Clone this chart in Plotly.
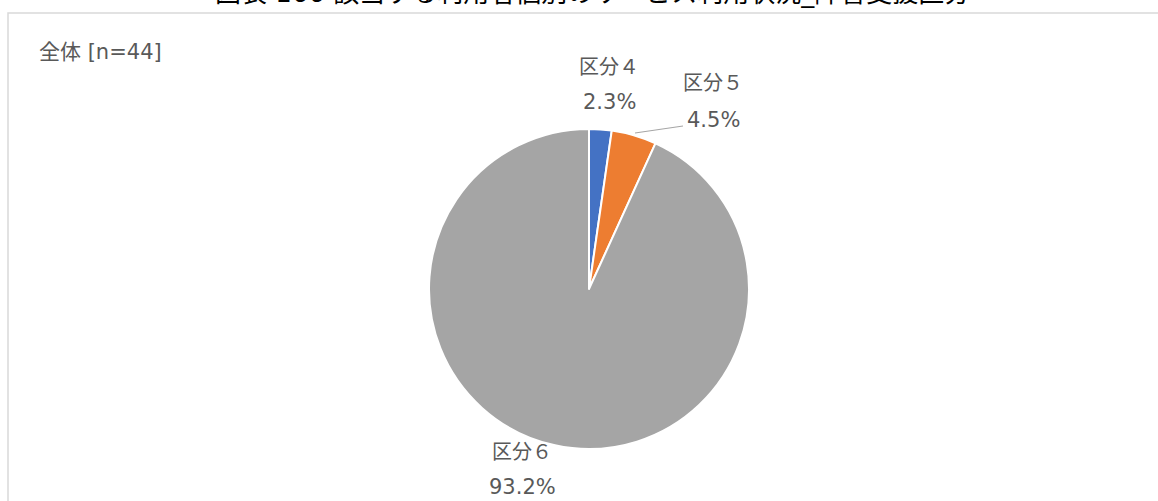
import plotly.graph_objects as go

categories = ["区分４", "区分５", "区分６"]
values = [1, 2, 41]
pct_labels = ["2.3%", "4.5%", "93.2%"]
colors = ["#4472C4", "#ED7D31", "#A5A5A5"]
title_text = "図表 166 該当する利用者個別のサービス利用状況_障害支援区分"
subtitle_text = "全体 [n=44]"

W, H = 1158, 501
FONT = "DejaVu Sans, Noto Sans CJK JP, sans-serif"
GRAY = "#595959"

def px(x):
    return x / W

def py(y):
    return 1 - y / H

cx, cy, r = 589, 289, 160

fig = go.Figure(go.Pie(
    labels=categories,
    values=values,
    sort=False,
    direction="clockwise",
    rotation=0,
    textinfo="none",
    hoverinfo="label+percent",
    marker=dict(colors=colors, line=dict(color="white", width=2)),
    domain=dict(x=[px(cx - r), px(cx + r)], y=[py(cy + r), py(cy - r)]),
    showlegend=False,
))

# label positions (pixel centres)
label_pos = [(609, 67, 102), (713, 83, 120), (522, 452, 487)]
annotations = []
for cat, pct, (x, y1, y2) in zip(categories, pct_labels, label_pos):
    annotations.append(dict(x=px(x), y=py(y1), xref="paper", yref="paper", text=cat,
                            showarrow=False, xanchor="center", yanchor="middle",
                            font=dict(family=FONT, size=20, color=GRAY)))
    annotations.append(dict(x=px(x), y=py(y2), xref="paper", yref="paper", text=pct,
                            showarrow=False, xanchor="center", yanchor="middle",
                            font=dict(family=FONT, size=21, color=GRAY)))

annotations.append(dict(x=px(37), y=py(52), xref="paper", yref="paper", text=subtitle_text,
                        showarrow=False, xanchor="left", yanchor="middle",
                        font=dict(family=FONT, size=21, color=GRAY)))
annotations.append(dict(x=px(592), y=py(-7), xref="paper", yref="paper", text=title_text,
                        showarrow=False, xanchor="center", yanchor="middle",
                        font=dict(family=FONT, size=26, color="#000000")))

shapes = [
    dict(type="rect", xref="paper", yref="paper", x0=px(8), x1=px(1170), y0=py(520), y1=py(13),
         line=dict(color="#D9D9D9", width=1.5), fillcolor="rgba(0,0,0,0)", layer="below"),
    dict(type="line", xref="paper", yref="paper", x0=px(635), y0=py(133), x1=px(683), y1=py(126),
         line=dict(color="#A6A6A6", width=1.2)),
]

fig.update_layout(
    width=W, height=H,
    margin=dict(l=0, r=0, t=0, b=0),
    paper_bgcolor="white", plot_bgcolor="white",
    annotations=annotations,
    shapes=shapes,
)

fig.write_html("out.html", config={"displayModeBar": False},
               post_script="document.body.style.margin='0px';document.body.style.overflow='hidden';")
